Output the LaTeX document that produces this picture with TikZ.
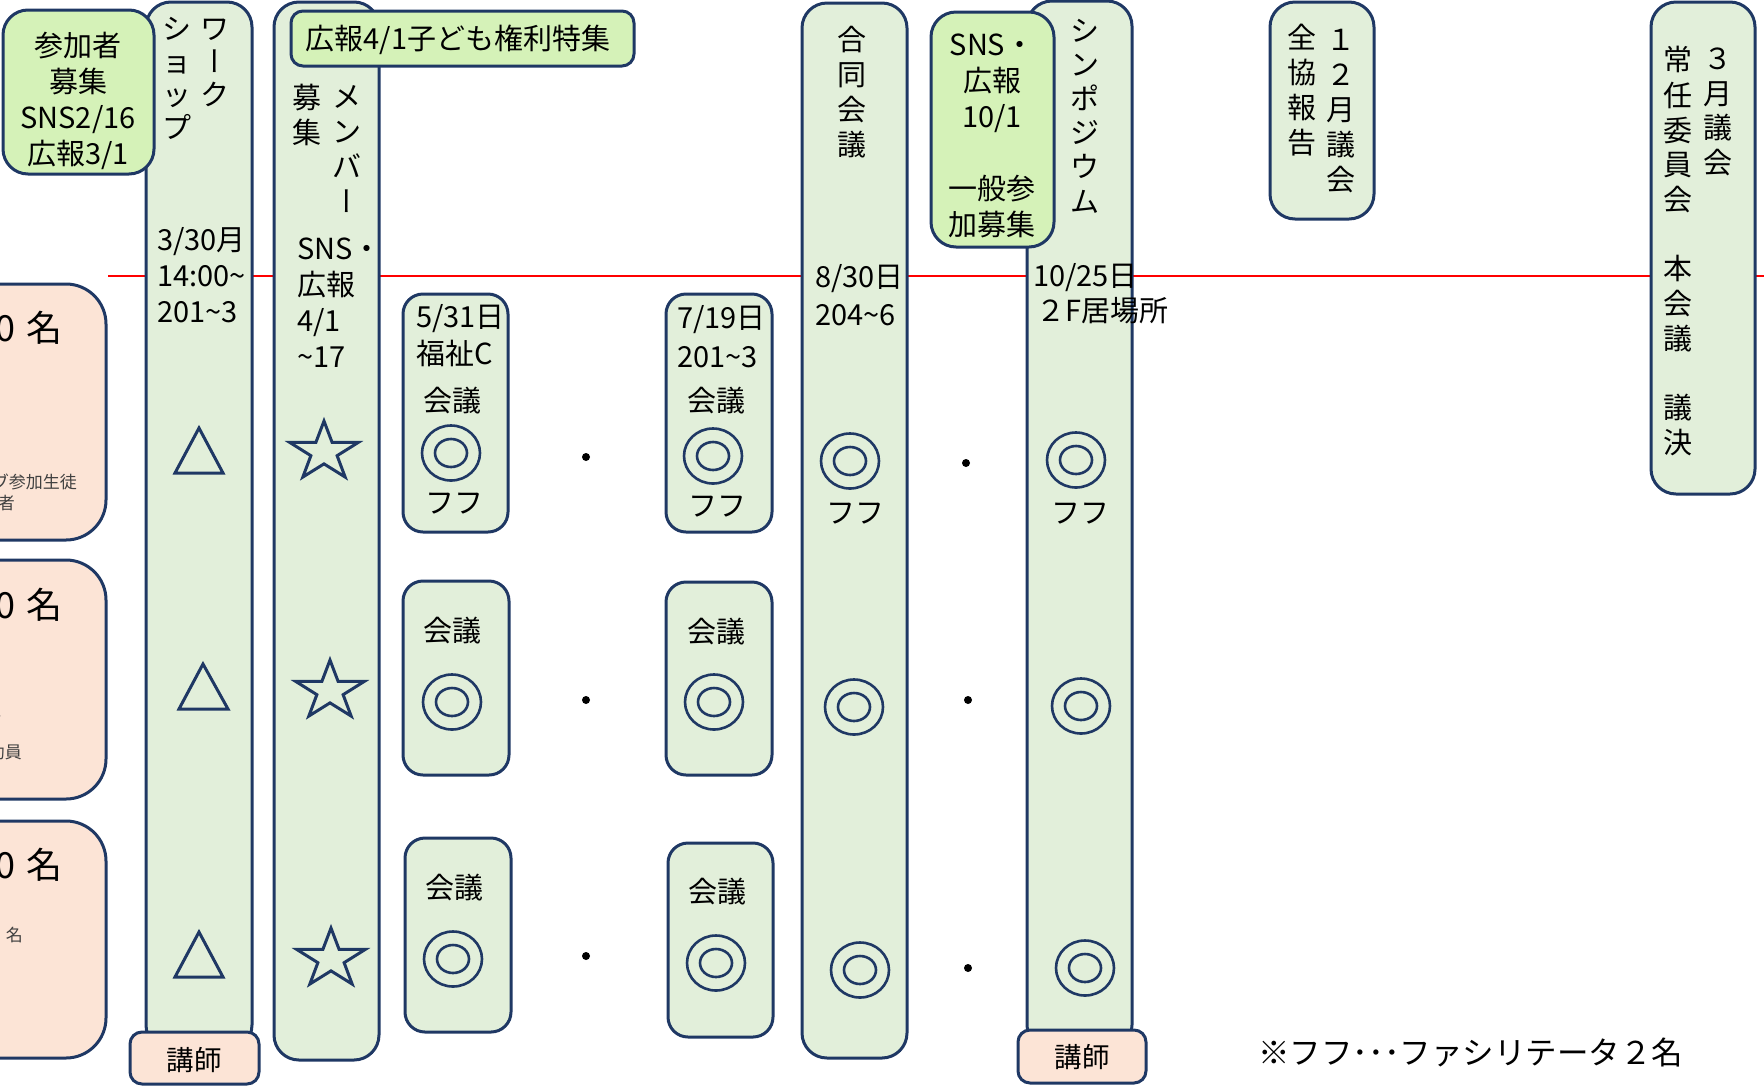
\documentclass[tikz,border=0pt]{standalone}
\usepackage{fontspec}
\setmainfont{Noto Sans CJK JP}
\newfontfamily\jpv{Noto Sans CJK JP}[RawFeature=+vert]
\newcommand\vbar{{\jpv ー}}
\definecolor{navy}{HTML}{1F3864}
\definecolor{colfill}{HTML}{E2EFDA}
\definecolor{hlfill}{HTML}{D5F2B8}
\definecolor{pinkfill}{HTML}{FCE4D6}
\definecolor{redline}{HTML}{FF0000}
\newcommand\fm{\fontsize{29pt}{36pt}\selectfont}
\begin{document}
\begin{tikzpicture}[x=1pt,y=-1pt,
  colbox/.style={draw=navy,fill=colfill,line width=3pt,rounded corners=25pt},
  meetbox/.style={draw=navy,fill=colfill,line width=3pt,rounded corners=20pt},
  hlbox/.style={draw=navy,fill=hlfill,line width=3pt,rounded corners=25pt},
  pinkbox/.style={draw=navy,fill=pinkfill,line width=3pt,rounded corners=40pt},
  lecbox/.style={draw=navy,fill=pinkfill,line width=3pt,rounded corners=12pt},
  symline/.style={draw=navy,line width=3pt,line join=miter},
  ringline/.style={draw=navy,line width=2.6pt},
  htxt/.style={inner sep=0pt,align=left,font=\fm},
  ctxt/.style={inner sep=0pt,anchor=base,font=\fm},
  vtxt/.style={inner sep=0pt,align=center,anchor=north,font=\fontsize{29pt}{35pt}\selectfont},
  bigtxt/.style={inner sep=0pt,anchor=base east,font=\fontsize{36pt}{40pt}\selectfont},
  smalltxt/.style={inner sep=0pt,anchor=base east,text=black!75,font=\fontsize{17pt}{20pt}\selectfont},
  starpic/.pic={\draw[symline,yscale=0.86] (90:36pt) -- (126:13.8pt) -- (162:36pt) -- (198:13.8pt) -- (234:36pt) -- (270:13.8pt) -- (306:36pt) -- (342:13.8pt) -- (18:36pt) -- (54:13.8pt) -- cycle;},
  ringpic/.pic={\draw[ringline] (0,0) circle [x radius=29pt,y radius=27.5pt]; \draw[ringline] (0,0) circle [x radius=16pt,y radius=14pt];}
]
\useasboundingbox (0,0) rectangle (1764,1088);
% timeline
\coordinate (lineL) at (108,276);
\coordinate (lineR) at (1764,276);
\draw[redline,line width=2pt] (lineL) -- (lineR);

% pink boxes (cut at left edge)
\draw[pinkbox] (-200,284) rectangle (106,540);
\draw[pinkbox] (-200,560) rectangle (106,799);
\draw[pinkbox] (-200,821) rectangle (106,1058);
\node[bigtxt] (p1) at (63,341) {0\hspace{3pt} 名};
\node[bigtxt] (p2) at (63,618) {0\hspace{3pt} 名};
\node[bigtxt] (p3) at (63,878) {0\hspace{3pt} 名};
\node[smalltxt] (p1a) at (77,488) {ブ参加生徒};
\node[smalltxt] (p1b) at (15,509) {者};
\node[smalltxt] (p2a) at (12,716) {、};
\node[smalltxt] (p2b) at (22,758) {助員};
\node[smalltxt] (p3a) at (23,941) {名};

% columns
\draw[colbox] (146,2) rectangle (252,1050);
\draw[colbox] (274,2) rectangle (379,1060);
\draw[colbox] (802,3) rectangle (907,1058);
\draw[colbox] (1027,1) rectangle (1132,1050);
\draw[colbox] (1270,2) rectangle (1374,219);
\draw[colbox] (1651,2) rectangle (1755,494);

% highlight boxes
\draw[hlbox] (3,10) rectangle (154,174);
\draw[hlbox,rounded corners=12pt] (291,11) rectangle (634,66);
\draw[hlbox] (931,12) rectangle (1054,247);

% meeting boxes
\draw[meetbox] (403,294) rectangle (508,532);
\draw[meetbox] (666,294) rectangle (772,532);
\draw[meetbox] (403,581) rectangle (509,775);
\draw[meetbox] (666,582) rectangle (772,775);
\draw[meetbox] (405,838) rectangle (511,1032);
\draw[meetbox] (668,843) rectangle (773,1037);

% lecturer boxes
\draw[lecbox] (130,1032) rectangle (259,1084);
\draw[lecbox] (1018,1030) rectangle (1146,1083);

% triangles
\draw[symline] (199,428) -- (175,473) -- (223,473) -- cycle;
\draw[symline] (203,664) -- (179,709) -- (228,709) -- cycle;
\draw[symline] (199,932) -- (175,977) -- (223,977) -- cycle;

% stars
\pic at (324,452) {starpic};
\pic at (330,691) {starpic};
\pic at (331,959) {starpic};

% rings
\pic at (451,453) {ringpic};
\pic at (713,456) {ringpic};
\pic at (452,702) {ringpic};
\pic at (714,702) {ringpic};
\pic at (453,959) {ringpic};
\pic at (716,963) {ringpic};
\pic at (850,461) {ringpic};
\pic at (854,707) {ringpic};
\pic at (860,970) {ringpic};
\pic at (1076,460) {ringpic};
\pic at (1081,706) {ringpic};
\pic at (1085,968) {ringpic};

% dots
\fill (586,457) circle (4pt);
\fill (586,700) circle (4pt);
\fill (586,956) circle (4pt);
\fill (966,463) circle (4pt);
\fill (968,700) circle (4pt);
\fill (968,968) circle (4pt);

% texts: recruitment box
\node[htxt,align=center,anchor=north] (sanka) at (78,31) {\strut 参加者\\募集\\SNS2/16\\広報3/1};
\node[ctxt] (koho41) at (458,49) {広報4/1子ども権利特集};

% workshop column
\node[vtxt,font=\fontsize{29pt}{33pt}\selectfont] (wsR) at (215,16) {\strut ワ\\\vbar\\ク};
\node[vtxt,font=\fontsize{29pt}{33pt}\selectfont] (wsL) at (177,16) {\strut シ\\ョ\\ッ\\プ};
\node[htxt,anchor=north west] (wsD) at (157,225) {\strut 3/30月\\14:00\textasciitilde\\201\textasciitilde 3};

% member column
\node[vtxt] (memR) at (347,83) {\strut メ\\ン\\バ\\\vbar};
\node[vtxt] (memL) at (307,84) {\strut 募\\集};
\node[htxt,anchor=north west] (memD) at (297,234) {\strut SNS・\\広報\\4/1\\\textasciitilde 17};

% meeting texts
\node[ctxt,anchor=base west] (a1) at (416,327) {5/31日};
\node[ctxt,anchor=base west] (a2) at (416,364) {福祉C};
\node[ctxt] (a3) at (452,411) {会議};
\node[ctxt] (a4) at (454,513) {フフ};
\node[ctxt,anchor=base west] (b1) at (677,328) {7/19日};
\node[ctxt,anchor=base west] (b2) at (677,367) {201\textasciitilde 3};
\node[ctxt] (b3) at (716,411) {会議};
\node[ctxt] (b4) at (717,516) {フフ};
\node[ctxt] (c3) at (452,641) {会議};
\node[ctxt] (d3) at (716,642) {会議};
\node[ctxt] (e3) at (454,898) {会議};
\node[ctxt] (f3) at (717,902) {会議};

% joint meeting column
\node[vtxt] (godo) at (852,26) {\strut 合\\同\\会\\議};
\node[htxt,anchor=north west,font=\fontsize{29pt}{38pt}\selectfont] (godoD) at (815,261) {\strut 8/30日\\204\textasciitilde 6};
\node[ctxt] (godoF) at (855,523) {フフ};

% SNS box
\node[htxt,align=center,anchor=north] (sns) at (992,30) {\strut SNS・\\広報\\10/1\\[36pt]一般参\\加募集};

% symposium column
\node[vtxt,font=\fontsize{29pt}{34.2pt}\selectfont] (sym) at (1085,17) {\strut シ\\ン\\ポ\\ジ\\ウ\\ム};
\node[ctxt,anchor=base west] (symD1) at (1033,286) {10/25日};
\node[ctxt,anchor=base west] (symD2) at (1036,321) {２F居場所};
\node[ctxt] (symF) at (1080,523) {フフ};

% December / March
\node[vtxt] (decR) at (1341,26) {\strut １\\２\\月\\議\\会};
\node[vtxt] (decL) at (1302,24) {\strut 全\\協\\報\\告};
\node[vtxt,font=\fontsize{29pt}{34.7pt}\selectfont] (marR) at (1718,45) {\strut ３\\月\\議\\会};
\node[vtxt,font=\fontsize{29pt}{34.7pt}\selectfont] (marL) at (1678,46) {\strut 常\\任\\委\\員\\会\\　\\本\\会\\議\\　\\議\\決};

% lecturers
\node[ctxt,font=\fontsize{27.5pt}{30pt}\selectfont] (lec1) at (194,1070) {講師};
\node[ctxt,font=\fontsize{27.5pt}{30pt}\selectfont] (lec2) at (1082,1067) {講師};

% footnote
\node[ctxt,anchor=base west,font=\fontsize{31.5pt}{36pt}\selectfont] (note) at (1258,1064) {※フフ･･･ファシリテータ２名};
\end{tikzpicture}
\end{document}
